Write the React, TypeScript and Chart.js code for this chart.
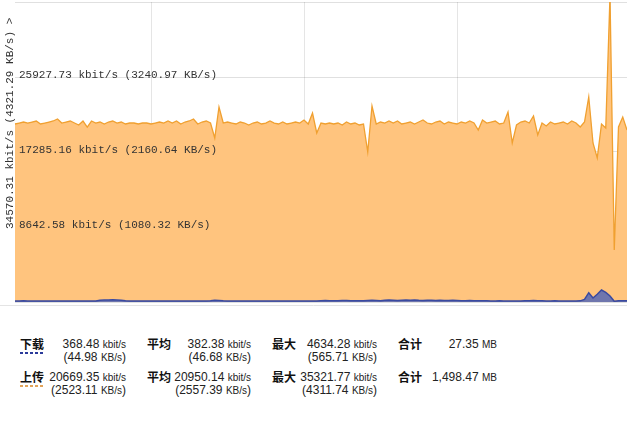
import React, { useEffect, useRef } from "react";
import { Chart, registerables } from "chart.js";

Chart.register(...registerables);

// ---- data ----
const START_TIME = "18:40";
const STEP_MIN = 10;
const POINT_COUNT = 145;
const GRID_LABELS = ["00:00", "06:00", "12:00", "18:00"];

const Y_MAX = 34570.31;
const Y_TICKS = [0, 8642.58, 17285.16, 25927.73, 34570.31];
const Y_TICK_TEXT = [
  "",
  "8642.58 kbit/s (1080.32 KB/s)",
  "17285.16 kbit/s (2160.64 KB/s)",
  "25927.73 kbit/s (3240.97 KB/s)",
  "",
];
const Y_TITLE = "34570.31 kbit/s (4321.29 KB/s) >";

const UPLOAD = [
  20511, 20626, 20741, 20626, 20741, 20857, 20511, 20626, 20741, 20857,
  21087, 20626, 20741, 20857, 20626, 20396, 20857, 20165, 20857, 20626,
  20741, 20511, 20741, 20857, 20626, 20741, 20511, 20626, 20626, 20511,
  20626, 20626, 20511, 20626, 20741, 20626, 20857, 20626, 20857, 20511,
  20741, 20857, 21087, 20511, 20741, 20857, 20626, 18898, 22470, 20626,
  20741, 20626, 20511, 20741, 20626, 20396, 20626, 20741, 20511, 20626,
  20857, 20626, 20511, 20741, 20511, 20626, 20741, 20626, 20972, 20511,
  21778, 19474, 20626, 20511, 20626, 20511, 20626, 20396, 20741, 20511,
  20626, 20396, 20511, 17285, 22585, 20511, 20741, 20626, 20857, 20626,
  20857, 20511, 20626, 20741, 20511, 20741, 20972, 20626, 20511, 20741,
  20857, 20511, 20741, 20626, 20511, 20741, 20626, 20857, 20626, 19820,
  20972, 20626, 20741, 20857, 20511, 20626, 21894, 18322, 20396, 20741,
  20857, 20626, 21433, 19243, 20626, 20280, 20741, 20511, 20626, 20741,
  20511, 20857, 20626, 20165, 20741, 23622, 18322, 16593, 20511, 20050,
  35321, 5992, 20165, 21318, 19820,
];

const DOWNLOAD = [
  120, 110, 130, 115, 120, 110, 125, 120, 110, 115,
  120, 110, 125, 120, 110, 120, 125, 110, 120, 115,
  200, 240, 220, 250, 230, 210, 150, 120, 110, 125,
  120, 110, 120, 110, 125, 120, 110, 120, 125, 110,
  120, 110, 120, 125, 110, 120, 140, 190, 170, 140,
  125, 120, 110, 125, 120, 110, 120, 125, 110, 120,
  110, 120, 125, 110, 120, 110, 125, 120, 110, 120,
  125, 120, 140, 170, 150, 130, 140, 180, 160, 140,
  130, 150, 140, 170, 200, 180, 150, 190, 220, 200,
  180, 210, 230, 200, 220, 190, 180, 200, 190, 170,
  190, 180, 160, 190, 170, 150, 140, 160, 150, 130,
  140, 130, 125, 120, 130, 125, 120, 110, 125, 120,
  130, 140, 160, 150, 140, 125, 120, 130, 120, 110,
  125, 120, 110, 130, 300, 1070, 460, 900, 1380, 1100,
  700, 80, 130, 150, 130,
];

function buildLabels(): string[] {
  const [h, m] = START_TIME.split(":").map(Number);
  const out: string[] = [];
  for (let i = 0; i < POINT_COUNT; i++) {
    const t = (h * 60 + m + i * STEP_MIN) % 1440;
    const hh = String(Math.floor(t / 60)).padStart(2, "0");
    const mm = String(t % 60).padStart(2, "0");
    out.push(`${hh}:${mm}`);
  }
  return out;
}
const LABELS = buildLabels();

// ---- legend ----
const LEGEND_ROWS = [
  {
    name: "下载",
    color: "#2b3b9b",
    cur: ["368.48", "44.98"],
    avg: ["382.38", "46.68"],
    max: ["4634.28", "565.71"],
    total: "27.35",
  },
  {
    name: "上传",
    color: "#e2a45a",
    cur: ["20669.35", "2523.11"],
    avg: ["20950.14", "2557.39"],
    max: ["35321.77", "4311.74"],
    total: "1,498.47",
  },
];

const MONO = "'Liberation Mono', 'DejaVu Sans Mono', monospace";
const SANS = "'Liberation Sans', Arial, sans-serif";

const overlayPlugin = {
  id: "overlay",
  afterDraw(chart: any) {
    const ctx = chart.ctx as CanvasRenderingContext2D;
    const y = chart.scales.y;
    const area = chart.chartArea;
    ctx.save();
    ctx.strokeStyle = "#e4e4e4";
    ctx.lineWidth = 1;
    ctx.beginPath();
    ctx.moveTo(0, area.bottom + 3.5);
    ctx.lineTo(chart.width, area.bottom + 3.5);
    ctx.stroke();
    ctx.font = `11px ${MONO}`;
    ctx.fillStyle = "#333";
    ctx.textAlign = "left";
    ctx.textBaseline = "alphabetic";
    Y_TICKS.forEach((v, i) => {
      const t = Y_TICK_TEXT[i];
      if (!t) return;
      ctx.fillText(t, area.left + 4, y.getPixelForValue(v) + 1);
    });
    ctx.translate(13, 229);
    ctx.rotate(-Math.PI / 2);
    ctx.fillText(Y_TITLE, 0, 0);
    ctx.restore();
  },
};

function Unit({ t }: { t: string }) {
  return <span style={{ fontSize: 10 }}>{t}</span>;
}

function ValueCell({ right, top, v }: { right: number; top: number; v: string[] }) {
  return (
    <div
      style={{
        position: "absolute",
        left: right - 110,
        width: 110,
        top,
        textAlign: "right",
        fontFamily: SANS,
        fontSize: 12,
        lineHeight: "13px",
        color: "#222",
        whiteSpace: "nowrap",
      }}
    >
      <div>
        {v[0]} <Unit t="kbit/s" />
      </div>
      <div>
        ({v[1]} <Unit t="KB/s" />)
      </div>
    </div>
  );
}

function Label({ left, top, text, underline }: { left: number; top: number; text: string; underline?: string }) {
  return (
    <>
      <div
        style={{
          position: "absolute",
          left,
          top,
          fontFamily: "'Noto Sans CJK SC', sans-serif",
          fontWeight: 700,
          fontSize: 12,
          lineHeight: "14px",
          color: "#111",
          whiteSpace: "nowrap",
        }}
      >
        {text}
      </div>
      {underline ? (
        <div
          style={{
            position: "absolute",
            left,
            top: top + 15,
            width: 24,
            height: 2,
            background: `repeating-linear-gradient(to right, ${underline} 0px, ${underline} 3px, transparent 3px, transparent 5px)`,
          }}
        />
      ) : null}
    </>
  );
}

export default function App() {
  const ref = useRef<HTMLCanvasElement | null>(null);
  useEffect(() => {
    if (!ref.current) return;
    const chart = new Chart(ref.current, {
      type: "line",
      data: {
        labels: LABELS,
        datasets: [
          {
            label: "下载",
            data: DOWNLOAD,
            borderColor: "#3a4aa0",
            backgroundColor: "#6f76ad",
            borderWidth: 1.5,
            fill: "origin",
            pointRadius: 0,
            tension: 0,
          },
          {
            label: "上传",
            data: UPLOAD,
            borderColor: "#f0a030",
            backgroundColor: "#ffc47e",
            borderWidth: 1.3,
            fill: "origin",
            pointRadius: 0,
            tension: 0,
          },
        ],
      },
      options: {
        animation: false,
        responsive: false,
        maintainAspectRatio: false,
        layout: { padding: { left: 15, top: 2, right: 0, bottom: 8 } },
        plugins: { legend: { display: false }, tooltip: { enabled: false } },
        scales: {
          x: {
            type: "category",
            offset: false,
            z: 1,
            ticks: { display: false, autoSkip: false },
            grid: {
              drawTicks: false,
              color: (c: any) =>
                GRID_LABELS.includes(LABELS[c.index]) ? "rgba(0,0,0,0.1)" : "rgba(0,0,0,0)",
            },
            border: { display: false },
          },
          y: {
            min: 0,
            max: Y_MAX,
            z: 1,
            afterBuildTicks: (s: any) => {
              s.ticks = Y_TICKS.map((v) => ({ value: v }));
            },
            ticks: { display: false },
            grid: { drawTicks: false, color: "rgba(0,0,0,0.12)" },
            border: { display: false },
          },
        },
      } as any,
      plugins: [overlayPlugin],
    });
    return () => chart.destroy();
  }, []);

  const r1 = 338;
  const r2 = 371;
  return (
    <div style={{ position: "absolute", left: 0, top: 0, width: 627, height: 421, background: "#fff" }}>
      <canvas ref={ref} width={627} height={310} style={{ display: "block" }} />
      {LEGEND_ROWS.map((row, i) => {
        const top = i === 0 ? r1 : r2;
        return (
          <React.Fragment key={row.name}>
            <Label left={20} top={top - 1} text={row.name} underline={row.color} />
            <ValueCell right={126} top={top} v={row.cur} />
            <Label left={147} top={top - 1} text="平均" />
            <ValueCell right={251} top={top} v={row.avg} />
            <Label left={272} top={top - 1} text="最大" />
            <ValueCell right={377} top={top} v={row.max} />
            <Label left={398} top={top - 1} text="合计" />
            <div
              style={{
                position: "absolute",
                left: 397,
                width: 100,
                top,
                textAlign: "right",
                fontFamily: SANS,
                fontSize: 12,
                lineHeight: "13px",
                color: "#222",
              }}
            >
              {row.total} <span style={{ fontSize: 10 }}>MB</span>
            </div>
          </React.Fragment>
        );
      })}
    </div>
  );
}
